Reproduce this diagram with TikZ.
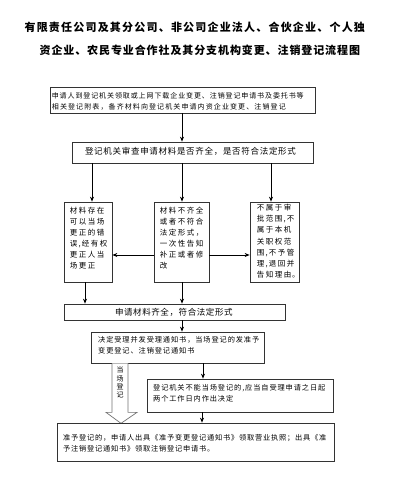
\documentclass[tikz,border=0pt]{standalone}
\usepackage{fontspec}
\newfontfamily\cjk{Noto Sans CJK SC}
\usetikzlibrary{arrows.meta,calc}
\newcommand{\cjkfs}[2]{\cjk\fontsize{#1}{#2}\selectfont}
\makeatletter
\newcommand{\pch}[2]{\@tfor\pch@c:=#2\do{\makebox[#1][c]{\pch@c}}}
\makeatother
\begin{document}
\begin{tikzpicture}[x=1pt,y=-1pt,
  box/.style={draw=black!80, line width=0.7pt, inner sep=0pt, fill=white},
  txt/.style={inner sep=0pt, align=left, anchor=north west},
  arr/.style={-{Stealth[length=5pt,width=4pt]}, line width=1pt, draw=black},
  hollow/.style={draw=black!55, line width=0.7pt, fill=white, line join=miter}]
\useasboundingbox (0,0) rectangle (405,478);
\fill[white] (0,0) rectangle (405,478);

% title
\node[inner sep=0pt, anchor=west, font=\cjkfs{11}{14}\bfseries] (title1) at (23.8,27) {\pch{12.2pt}{有限责任公司及其分公司、非公司企业法人、合伙企业、个人独}};
\node[inner sep=0pt, anchor=west, font=\cjkfs{11}{14}\bfseries] (title2) at (39,50) {\pch{11.9pt}{资企业、农民专业合作社及其分支机构变更、注销登记流程图}};

% x / y helper coordinates
\coordinate (c85) at (85,0);
\coordinate (c92) at (92,0);
\coordinate (c121) at (121,0);
\coordinate (c182) at (182,0);
\coordinate (c202) at (202,0);
\coordinate (c203) at (203,0);
\coordinate (c271) at (271,0);
\coordinate (y255) at (0,255);

% boxes
\node[box, minimum width=265pt, minimum height=26pt] (b1) at (182.5,100) {};
\node[box, minimum width=241pt, minimum height=21pt] (b2) at (192.5,152.5) {};
\node[box, minimum width=48pt, minimum height=80pt] (L) at (88,242) {};
\node[box, minimum width=55pt, minimum height=80pt] (M) at (181.5,242) {};
\node[box, minimum width=49pt, minimum height=80pt] (R) at (274.5,242) {};
\node[box, minimum width=221pt, minimum height=16pt] (b3) at (174.5,312) {};
\node[box, minimum width=173pt, minimum height=31pt] (b4) at (177.5,347.5) {};
\node[box, minimum width=186pt, minimum height=33pt] (b5) at (240,395.5) {};

% hollow arrow (drawn before the final box)
\coordinate (hs) at (b4.south -| c121);
\coordinate (ht) at ($(hs)+(0,60)$);
\draw[hollow] ($(hs)+(-9,0)$) -- ($(ht)+(-9,-11)$) -- ($(ht)+(-15,-11)$) -- (ht)
  -- ($(ht)+(16,-11)$) -- ($(ht)+(7,-11)$) -- ($(hs)+(7,0)$);
\node[inner sep=0pt, align=center, font=\cjkfs{7}{8.3}] (hl) at (120,382.5) {当\\场\\登\\记};

\node[box, minimum width=277pt, minimum height=38pt] (b6) at (195.5,442) {};

% texts
\node[txt, font=\cjkfs{7}{11}] (t1) at (51.2,92.8) {\pch{7.9pt}{申请人到登记机关领取或上网下载企业变更、注销登记申请书及委托书等}\\\pch{8.1pt}{相关登记附表，备齐材料向登记机关申请内资企业变更、注销登记}};
\node[inner sep=0pt, anchor=west, font=\cjkfs{8.5}{11}] (t2) at (84.5,151.5) {\pch{9.2pt}{登记机关审查申请材料是否齐全，是否符合法定形式}};
\node[txt, font=\cjkfs{7.5}{11}] (tL) at (69,206.6) {\pch{9pt}{材料存在}\\\pch{9pt}{可以当场}\\\pch{9pt}{更正的错}\\\pch{9pt}{误}\makebox[3pt]{,}\pch{9pt}{经有权}\\\pch{9pt}{更正人当}\\\pch{9pt}{场更正}};
\node[txt, font=\cjkfs{7.5}{11}] (tM) at (159,206.6) {\pch{9pt}{材料不齐全}\\\pch{9pt}{或者不符合}\\\pch{9pt}{法定形式，}\\\pch{9pt}{一次性告知}\\\pch{9pt}{补正或者修}\\\pch{9pt}{改}};
\node[txt, font=\cjkfs{7.5}{11.3}] (tR) at (256,203.6) {\pch{9pt}{不属于审}\\\pch{9pt}{批范围}\makebox[3pt]{,}\pch{9pt}{不}\\\pch{9pt}{属于本机}\\\pch{9pt}{关职权范}\\\pch{9pt}{围}\makebox[3pt]{,}\pch{9pt}{不予管}\\\pch{9pt}{理}\makebox[3pt]{,}\pch{9pt}{退回并}\\\pch{9pt}{告知理由}\makebox[5pt][l]{。}};
\node[inner sep=0pt, anchor=west, font=\cjkfs{8.5}{11}] (t3) at (114.5,312.3) {\pch{9.1pt}{申请材料齐全，符合法定形式}};
\node[txt, font=\cjkfs{7.2}{11}] (t4) at (97.5,335.8) {\pch{8.1pt}{决定受理并发受理通知书，当场登记的发准予}\\\pch{8.1pt}{变更登记、注销登记通知书}};
\node[txt, font=\cjkfs{7.2}{11}] (t5) at (152.5,383.8) {\pch{8.1pt}{登记机关不能当场登记的}\makebox[3pt]{,}\pch{8.1pt}{应当自受理申请之日起}\\\pch{8.1pt}{两个工作日内作出决定}};
\node[txt, font=\cjkfs{7.2}{11}] (t6) at (62.5,433.8) {\pch{8pt}{准予登记的，申请人出具《准予变更登记通知书》领取营业执照；出具《准}\\\pch{8pt}{予注销登记通知书》领取注销登记申请书。}};

% connectors
\draw[arr] (b1.south -| c182) -- (b2.north -| c182);
\draw[arr] (b2.south -| c92) -- (L.north -| c92);
\draw[arr] (b2.south -| c182) -- (M.north -| c182);
\draw[arr] (b2.south -| c271) -- (R.north -| c271);
\draw[arr] (M.west |- y255) -- (L.east |- y255);
\draw[arr] (M.east |- y255) -- (R.west |- y255);
\draw[arr] (L.south -| c85) -- (b3.north -| c85);
\draw[arr] (M.south -| c182) -- (b3.north -| c182);
\draw[arr] (b3.south -| c182) -- (b4.north -| c182);
\draw[arr] (b4.south -| c203) -- (b5.north -| c203);
\draw[arr] (b5.south -| c202) -- (b6.north -| c202);
\end{tikzpicture}
\end{document}
